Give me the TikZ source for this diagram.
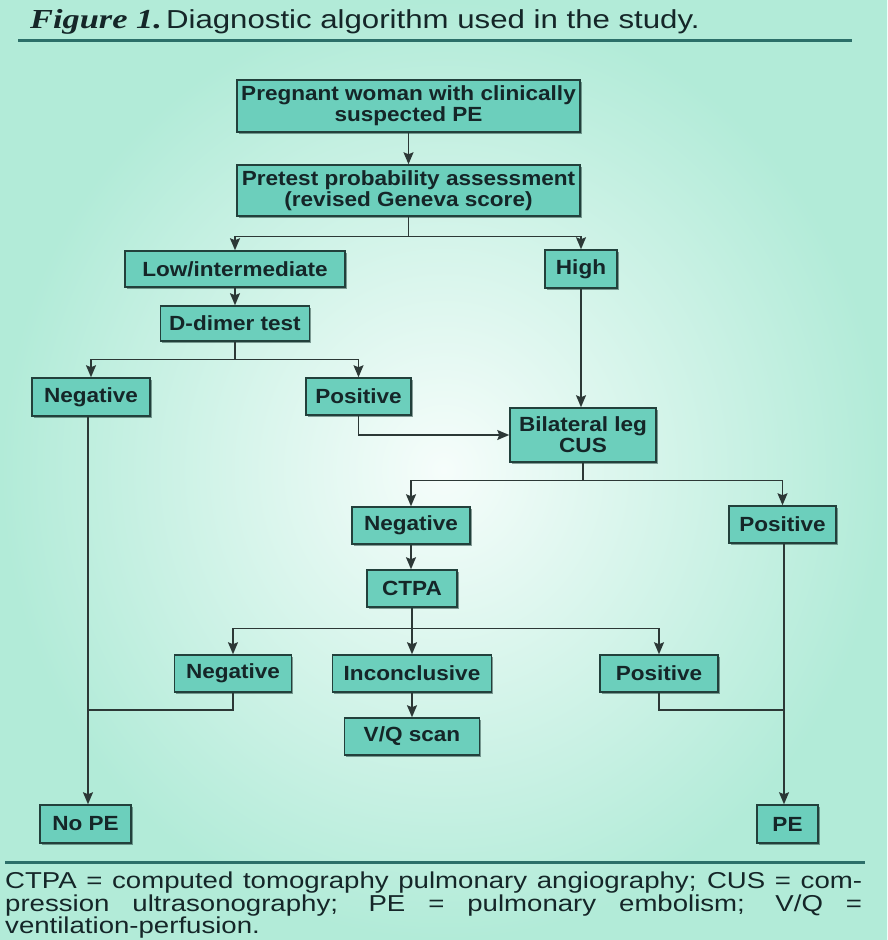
\documentclass[tikz,border=0pt]{standalone}
\usepackage{fontspec}
\setmainfont{Liberation Sans}[FakeStretch=1.1]
\newfontfamily\fnfont{Liberation Sans}[FakeStretch=1.2]
\newfontfamily\serifbi{Liberation Serif}[FakeStretch=1.25]
\usetikzlibrary{arrows.meta,shadows}
\definecolor{bgout}{HTML}{B2EBD8}
\definecolor{bgin}{HTML}{F6FDFB}
\definecolor{boxfill}{HTML}{6CCFBC}
\definecolor{boxline}{HTML}{22403B}
\definecolor{wirec}{HTML}{2C3836}
\definecolor{rulec}{HTML}{2C6F69}
\definecolor{inkc}{HTML}{152628}
\begin{document}
\begin{tikzpicture}[x=1pt,y=-1pt,
  bx/.style={draw=boxline, line width=1.5pt, fill=boxfill, text=inkc,
    font=\fontsize{20.5}{21}\selectfont\bfseries, align=center, inner sep=0pt,
    drop shadow={shadow xshift=1.5pt, shadow yshift=-1.5pt, fill=boxline, opacity=0.5}},
  wire/.style={draw=wirec, line width=1.4pt},
  arr/.style={wire, -{Stealth[length=12pt,width=10pt,inset=2pt]}},
  fn/.style={anchor=base west, inner sep=0pt, text=inkc, font=\fnfont\fontsize{23}{22}\selectfont}]
\useasboundingbox (0,0) rectangle (887,940);
\shade[inner color=bgin, outer color=bgout] (0,0) rectangle (887,940);
% title and rules
\node[anchor=base west, inner sep=0pt, text=inkc] (title) at (30,28)
  {{\serifbi\bfseries\itshape\fontsize{27.5}{30}\selectfont Figure 1.}
   {\fnfont\fontsize{26}{30}\selectfont Diagnostic algorithm used in the study.}};
\draw[rulec, line width=3pt] (18,40) -- (852,40);
\draw[rulec, line width=3pt] (5,862) -- (865,862);
% boxes
\node[bx, minimum width=343pt, minimum height=52pt] (preg) at (408.5,106) {Pregnant woman with clinically\\suspected PE};
\node[bx, minimum width=343pt, minimum height=51pt] (pre) at (408.5,190.5) {Pretest probability assessment\\(revised Geneva score)};
\node[bx, minimum width=220pt, minimum height=36pt] (low) at (235,269) {Low/intermediate};
\node[bx, minimum width=72pt, minimum height=38pt] (high) at (581,269) {High};
\node[bx, minimum width=149pt, minimum height=35pt] (dd) at (235,323.5) {D-dimer test};
\node[bx, minimum width=118pt, minimum height=38pt] (negl) at (91,397) {Negative};
\node[bx, minimum width=105pt, minimum height=37pt] (posd) at (358.5,396.5) {Positive};
\node[bx, minimum width=146pt, minimum height=54pt] (cus) at (583,435) {Bilateral leg\\CUS};
\node[bx, minimum width=118pt, minimum height=37pt] (negc) at (411,525.5) {Negative};
\node[bx, minimum width=107pt, minimum height=37pt] (posc) at (782.5,524.5) {Positive};
\node[bx, minimum width=90pt, minimum height=37pt] (ctpa) at (412,588.5) {CTPA};
\node[bx, minimum width=117pt, minimum height=37pt] (negt) at (233,673.5) {Negative};
\node[bx, minimum width=159pt, minimum height=37pt] (inc) at (412,673.5) {Inconclusive};
\node[bx, minimum width=118pt, minimum height=37pt] (post) at (659,673.5) {Positive};
\node[bx, minimum width=135pt, minimum height=37pt] (vq) at (412,736.5) {V/Q scan};
\node[bx, minimum width=91pt, minimum height=38pt] (nope) at (85.5,824) {No PE};
\node[bx, minimum width=61pt, minimum height=38pt] (pe) at (787.5,824) {PE};
% connectors
\draw[arr] (preg.south) -- (pre.north);
\path (pre.south) ++(0,20) coordinate (b1);
\draw[wire] (pre.south) -- (b1);
\draw[arr] (b1) -| (low.north);
\draw[arr] (b1) -| (high.north);
\draw[arr] (low.south) -- (dd.north);
\path (dd.south) ++(0,18) coordinate (b2);
\draw[wire] (dd.south) -- (b2);
\draw[arr] (b2) -| (negl.north);
\draw[arr] (b2) -| (posd.north);
\coordinate (xl) at (88,0);
\draw[arr] (negl.south -| xl) -- (nope.north -| xl);
\draw[arr] (posd.south) |- (cus.west);
\draw[arr] (high.south) -- (high.south |- cus.north);
\path (cus.south) ++(0,18) coordinate (b3);
\draw[wire] (cus.south) -- (b3);
\draw[arr] (b3) -| (negc.north);
\draw[arr] (b3) -| (posc.north);
\draw[arr] (negc.south) -- (negc.south |- ctpa.north);
\path (ctpa.south) ++(0,21) coordinate (b4);
\draw[wire] (ctpa.south) -- (b4);
\draw[arr] (b4) -| (negt.north);
\draw[arr] (b4) -- (inc.north);
\draw[arr] (b4) -| (post.north);
\draw[arr] (inc.south) -- (vq.north);
\coordinate (jl) at (88,710);
\draw[wire] (negt.south) |- (jl);
\coordinate (xr) at (784,0);
\draw[arr] (posc.south -| xr) -- (pe.north -| xr);
\coordinate (jr) at (784,710);
\draw[wire] (post.south) |- (jr);
% footnote
\node[fn] (fn1) at (5,888)
  {\makebox[857pt][s]{CTPA = computed tomography pulmonary angiography; CUS = com-}};
\node[fn] (fn2) at (5,911)
  {\makebox[857pt][s]{pression ultrasonography; PE = pulmonary embolism; V/Q =}};
\node[fn] (fn3) at (5,933)
  {ventilation-perfusion.};
\end{tikzpicture}
\end{document}
